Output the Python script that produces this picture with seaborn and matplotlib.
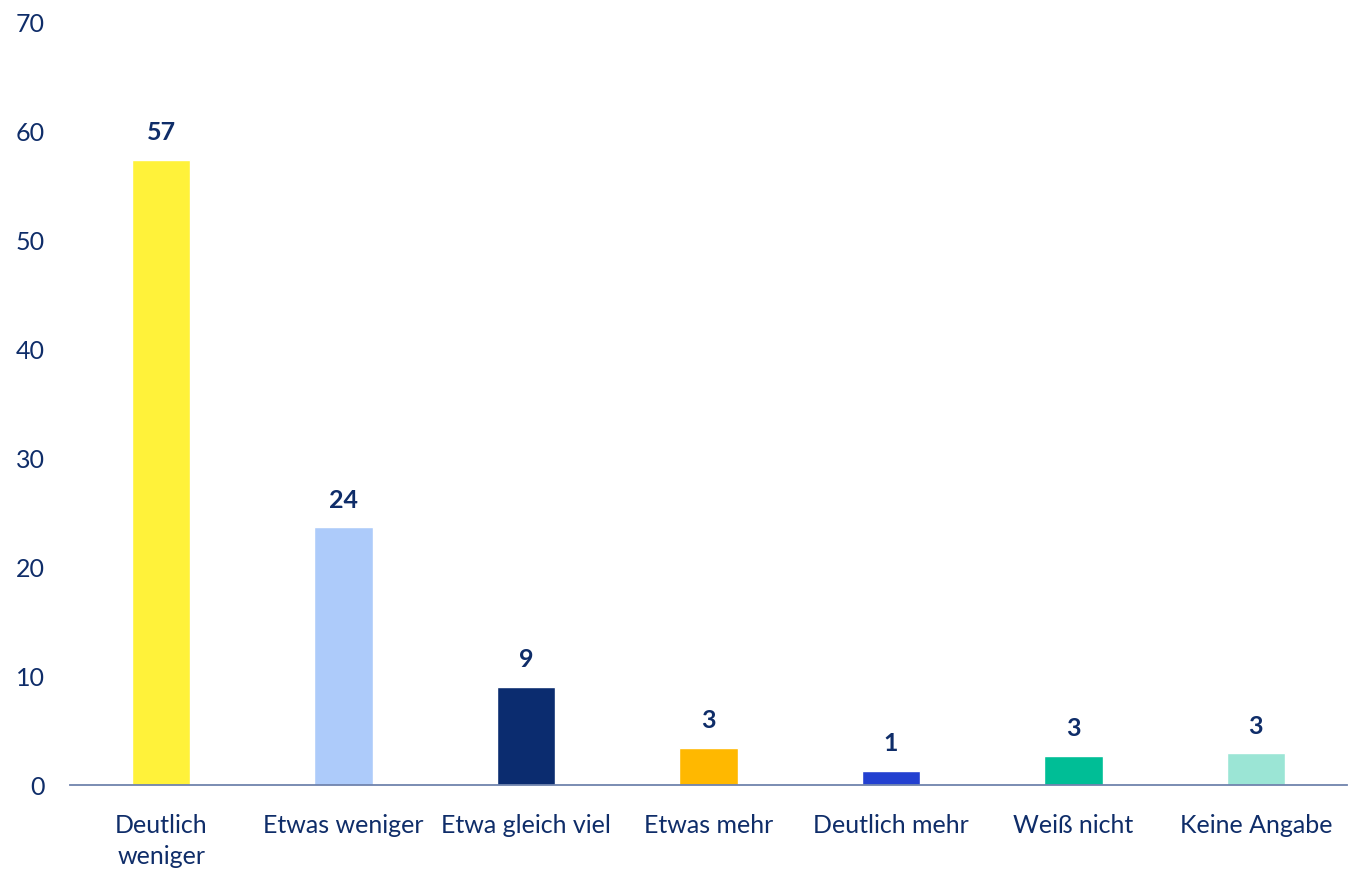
import matplotlib
matplotlib.use("Agg")
import matplotlib.pyplot as plt
import seaborn as sns
import pandas as pd

categories = ["Deutlich\nweniger", "Etwas weniger", "Etwa gleich viel", "Etwas mehr",
              "Deutlich mehr", "Weiß nicht", "Keine Angabe"]
values = [57.3, 23.6, 9.0, 3.4, 1.3, 2.7, 2.9]
labels = ["57", "24", "9", "3", "1", "3", "3"]
colors = ["#FFF23A", "#ADCBFA", "#0B2C6F", "#FFB800", "#2340D0", "#00BE96", "#9BE5D5"]
yticks = [0, 10, 20, 30, 40, 50, 60, 70]

sns.set_theme(style="white")
plt.rcParams["font.family"] = ["Lato", "DejaVu Sans"]
navy = "#0F2D69"

df = pd.DataFrame({"cat": categories, "val": values})
fig = plt.figure(figsize=(13.57, 8.70), dpi=100)
ax = fig.add_axes([70/1357, 84/870, (1347-70)/1357, (786-22)/870])
sns.barplot(data=df, x="cat", y="val", hue="cat", palette=colors, legend=False,
            width=0.32, saturation=1, ax=ax)
ax.set_xlim(-0.5, 6.5)
ax.set_ylim(0, 70)
ax.set_yticks(yticks)
ax.set_xlabel("")
ax.set_ylabel("")
for s in ["top", "right", "left"]:
    ax.spines[s].set_visible(False)
ax.spines["bottom"].set_color("#6F83AD")
ax.spines["bottom"].set_linewidth(1.3)
ax.tick_params(axis="y", length=0, pad=18, labelsize=18, labelcolor=navy)
ax.tick_params(axis="x", length=0, pad=20, labelsize=18, labelcolor=navy)
for t in ax.get_xticklabels():
    t.set_linespacing(1.45)
for i, (v, lab) in enumerate(zip(values, labels)):
    ax.annotate(lab, (i, v), xytext=(0, 12), textcoords="offset points",
                ha="center", va="bottom", fontsize=18, fontweight="bold", color=navy)
fig.savefig("out.png", dpi=100)
